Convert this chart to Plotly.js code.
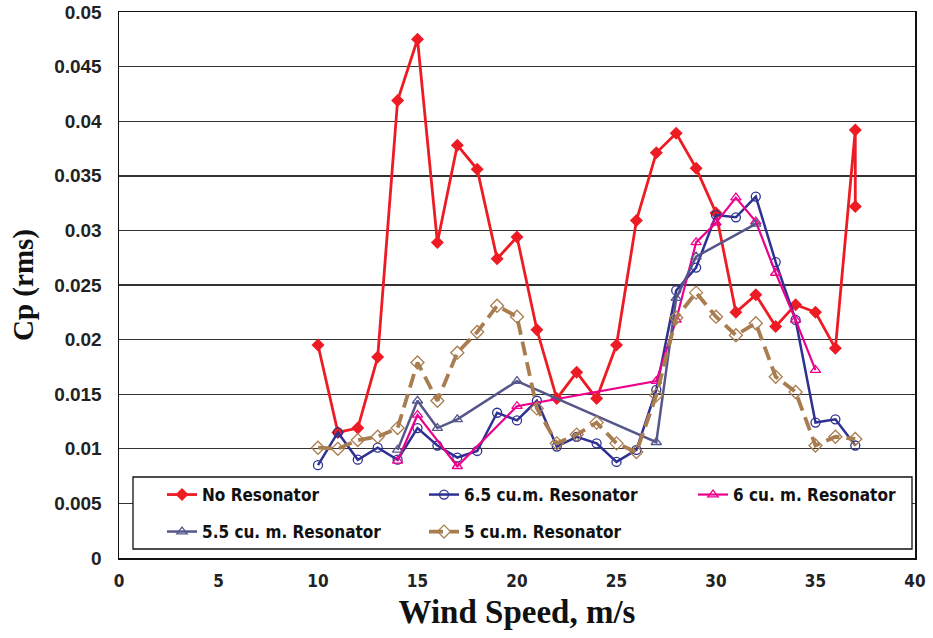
<!DOCTYPE html>
<html>
<head>
<meta charset="utf-8">
<script src="https://cdn.plot.ly/plotly-3.0.1.min.js"></script>
<style>
  html, body { margin: 0; padding: 0; background: #fff; }
  #chart { width: 933px; height: 638px; }
</style>
</head>
<body>
<div id="chart"></div>
<script>
// Wind speed (m/s) and rms pressure coefficient for each configuration
const windNoRes = [10, 11, 12, 13, 14, 15, 16, 17, 18, 19, 20, 21, 22, 23, 24, 25, 26, 27, 28, 29, 30, 31, 32, 33, 34, 35, 36, 37, 37];
const cpNoRes = [0.0195, 0.0115, 0.0119, 0.0184, 0.0419, 0.0475, 0.0289, 0.0378, 0.0356, 0.0274, 0.0294, 0.0209, 0.0146, 0.0170, 0.0146, 0.0195, 0.0309, 0.0371, 0.0389, 0.0357, 0.0316, 0.0225, 0.0241, 0.0212, 0.0232, 0.0225, 0.0192, 0.0392, 0.0322];

const wind65 = [10, 11, 12, 13, 14, 15, 16, 17, 18, 19, 20, 21, 22, 23, 24, 25, 26, 27, 28, 29, 30, 31, 32, 33, 34, 35, 36, 37];
const cp65 = [0.0085, 0.0115, 0.0090, 0.0101, 0.0090, 0.0119, 0.0103, 0.0092, 0.0098, 0.0133, 0.0126, 0.0144, 0.0102, 0.0111, 0.0105, 0.0088, 0.0099, 0.0154, 0.0245, 0.0266, 0.0314, 0.0312, 0.0331, 0.0271, 0.0218, 0.0124, 0.0127, 0.0103];

const wind60 = [14, 15, 17, 20, 27, 28, 29, 30, 31, 32, 33, 34, 35];
const cp60 = [0.0089, 0.0131, 0.0084, 0.0139, 0.0162, 0.0218, 0.0289, 0.0307, 0.0330, 0.0308, 0.0261, 0.0218, 0.0172];

const wind55 = [14, 15, 16, 17, 20, 27, 28, 29, 32];
const cp55 = [0.0099, 0.0144, 0.0119, 0.0127, 0.0162, 0.0106, 0.0238, 0.0276, 0.0306];

const wind50 = [10, 11, 12, 13, 14, 15, 16, 17, 18, 19, 20, 21, 22, 23, 24, 25, 26, 27, 28, 29, 30, 31, 32, 33, 34, 35, 36, 37];
const cp50 = [0.0101, 0.0100, 0.0108, 0.0111, 0.0119, 0.0179, 0.0144, 0.0188, 0.0207, 0.0231, 0.0221, 0.0137, 0.0105, 0.0113, 0.0124, 0.0105, 0.0097, 0.0149, 0.0220, 0.0243, 0.0221, 0.0204, 0.0215, 0.0166, 0.0152, 0.0103, 0.0111, 0.0109];

const seriesNames = ['No Resonator', '6.5 cu.m. Resonator', '6 cu. m. Resonator', '5.5 cu. m. Resonator', '5 cu.m. Resonator'];

const traces = [
  {
    x: windNoRes, y: cpNoRes, name: seriesNames[0], mode: 'lines+markers', legend: 'legend',
    line: { color: '#ED1C24', width: 2.8 },
    marker: { symbol: 'diamond', size: 10, color: '#ED1C24' }
  },
  {
    x: wind65, y: cp65, name: seriesNames[1], mode: 'lines+markers', legend: 'legend2',
    line: { color: '#2E3192', width: 2.5 },
    marker: { symbol: 'circle-open', size: 9, color: '#2E3192', line: { width: 1.3 } }
  },
  {
    x: wind60, y: cp60, name: seriesNames[2], mode: 'lines+markers', legend: 'legend3',
    line: { color: '#EC008C', width: 2.2 },
    marker: { symbol: 'triangle-up-open', size: 9, color: '#EC008C', line: { width: 1.3 } }
  },
  {
    x: wind55, y: cp55, name: seriesNames[3], mode: 'lines+markers', legend: 'legend4',
    line: { color: '#55578A', width: 2.5 },
    marker: { symbol: 'triangle-up-open', size: 9, color: '#55578A', line: { width: 1.3 } }
  },
  {
    x: wind50, y: cp50, name: seriesNames[4], mode: 'lines+markers', legend: 'legend5',
    line: { color: '#A87D50', width: 3.8, dash: '14px,7px' },
    marker: { symbol: 'diamond-open', size: 10, color: '#A87D50', line: { width: 1.3 } }
  }
];

const legendFont = { family: '"Liberation Sans Narrow", "Arial Narrow", "DejaVu Sans Condensed", sans-serif', size: 17, color: '#111', weight: 'bold' };

// one single-entry legend per series, laid out in a 3 + 2 grid inside a framed box
function legendAt(px, py) {
  return {
    orientation: 'v',
    x: (px - 119) / 796, xanchor: 'left',
    y: (558 - py) / 546, yanchor: 'middle',
    bgcolor: 'rgba(0,0,0,0)',
    borderwidth: 0,
    font: legendFont
  };
}

const layout = {
  width: 933,
  height: 638,
  margin: { l: 119, r: 18, t: 12, b: 80 },
  paper_bgcolor: '#fff',
  plot_bgcolor: '#fff',
  showlegend: true,
  xaxis: {
    range: [0, 40],
    dtick: 5,
    tick0: 0,
    showgrid: false,
    zeroline: false,
    showline: true,
    mirror: true,
    linecolor: '#111',
    linewidth: 1.5,
    ticks: '',
    ticklabelstandoff: 7,
    tickfont: { family: '"Liberation Sans Narrow", "Arial Narrow", "DejaVu Sans Condensed", sans-serif', size: 17, color: '#222', weight: 'bold' },
    title: {
      text: 'Wind Speed, m/s',
      standoff: 10,
      font: { family: '"Liberation Serif", "Times New Roman", serif', size: 33, color: '#111', weight: 'bold' }
    }
  },
  yaxis: {
    range: [0, 0.05],
    dtick: 0.005,
    tick0: 0,
    showgrid: true,
    gridcolor: '#333',
    gridwidth: 1.4,
    zeroline: false,
    showline: true,
    mirror: true,
    linecolor: '#111',
    linewidth: 1.5,
    ticks: '',
    ticklabelstandoff: 12,
    tickfont: { family: '"Liberation Sans", Arial, sans-serif', size: 19, color: '#222', weight: 'bold' },
    title: {
      text: 'Cp (rms)',
      standoff: 12,
      font: { family: '"Liberation Serif", "Times New Roman", serif', size: 29, color: '#111', weight: 'bold' }
    }
  },
  legend: legendAt(162, 495),
  legend2: legendAt(424, 495),
  legend3: legendAt(693, 495),
  legend4: legendAt(162, 532),
  legend5: legendAt(424, 532),
  shapes: [
    {
      type: 'rect', xref: 'paper', yref: 'paper', layer: 'above',
      x0: (133 - 119) / 796, x1: (912 - 119) / 796,
      y0: (558 - 549) / 546, y1: (558 - 477) / 546,
      fillcolor: '#fff',
      line: { color: '#111', width: 1.3 }
    }
  ]
};

Plotly.newPlot('chart', traces, layout, { displayModeBar: false, staticPlot: true });
</script>
</body>
</html>
